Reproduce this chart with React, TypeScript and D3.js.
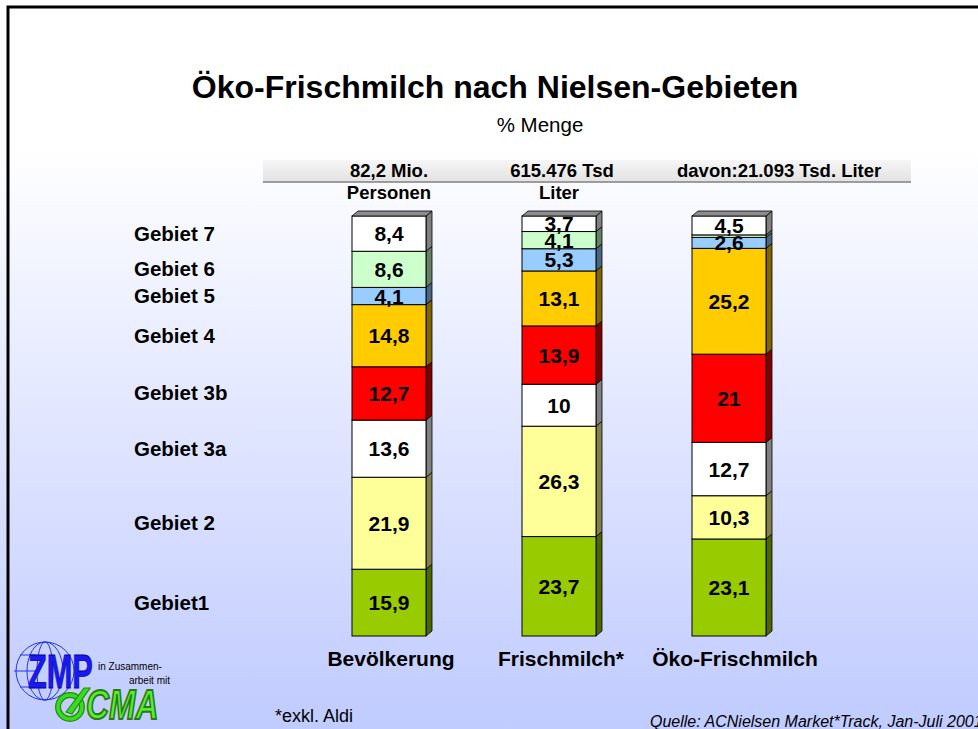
import React from "react";
import * as d3 from "d3";

const W = 978;
const H = 729;
const FONT = "'Liberation Sans', Arial, sans-serif";

// categories (bars) and regions (stack order, bottom to top)
const categories = ["Bevölkerung", "Frischmilch*", "Öko-Frischmilch"];
const regions = ["Gebiet1", "Gebiet 2", "Gebiet 3a", "Gebiet 3b", "Gebiet 4", "Gebiet 5", "Gebiet 6", "Gebiet 7"];
const regionColors = ["#99cc00", "#ffff99", "#ffffff", "#ff0000", "#ffcc00", "#99ccff", "#ccffcc", "#ffffff"];

// % Menge per region
const bevoelkerung = [15.9, 21.9, 13.6, 12.7, 14.8, 4.1, 8.6, 8.4];
const frischmilch = [23.7, 26.3, 10, 13.9, 13.1, 5.3, 4.1, 3.7];
const oekoFrischmilch = [23.1, 10.3, 12.7, 21, 25.2, 2.6, 0.6, 4.5];

const headerTop = ["82,2 Mio.", "615.476 Tsd", "davon:21.093 Tsd. Liter"];
const headerBottom = ["Personen", "Liter", ""];

const series = [bevoelkerung, frischmilch, oekoFrischmilch];

const rows = categories.map((c, i) => {
  const row: any = { cat: c };
  regions.forEach((r, j) => (row[r] = series[i][j]));
  return row;
});

const stack = d3.stack<any>().keys(regions).offset(d3.stackOffsetExpand);
const layers = stack(rows);

const x = d3.scalePoint<string>().domain(categories).range([389, 729]);
const y = d3.scaleLinear().domain([0, 1]).range([636, 216]);
const barW = 74;
const dx = 6;
const dy = 5;

const shade = (c: string, k: number) => {
  const rgb = d3.rgb(c);
  return d3.rgb(rgb.r * k, rgb.g * k, rgb.b * k).formatHex();
};
const fmt = (v: number) => String(v).replace(".", ",");

const Logo = () => (
  <g>
    <g fill="none" stroke="#2233ee" strokeWidth={1}>
      <circle cx={45} cy={671} r={29} />
      <ellipse cx={45} cy={671} rx={18} ry={29} />
      <ellipse cx={45} cy={671} rx={8} ry={29} />
      <line x1={14} y1={671} x2={36} y2={671} />
      <line x1={20} y1={655} x2={36} y2={655} />
      <line x1={20} y1={687} x2={36} y2={687} />
    </g>
    <text transform="translate(28,688) scale(0.64,1)" fontFamily={FONT} fontWeight="bold" fontSize={48}
      fill="#1a1aee" stroke="#0000aa" strokeWidth={0.8}>ZMP</text>
    <text x={98} y={670} fontFamily={FONT} fontSize={10} fill="#000">in Zusammen-</text>
    <text x={170} y={684} fontFamily={FONT} fontSize={10} fill="#000" textAnchor="end">arbeit mit</text>
    <circle cx={70} cy={707} r={12} fill="none" stroke="#2a8a00" strokeWidth={6} />
    <circle cx={70} cy={707} r={12} fill="none" stroke="#33dd22" strokeWidth={3.5} />
    <path d="M66,712 L84,688 L90,688 L72,714 Z" fill="#33dd22" stroke="#2a8a00" strokeWidth={1.2} />
    <text transform="translate(86,719) scale(0.74,1)" fontFamily={FONT} fontWeight="bold" fontStyle="italic"
      fontSize={43} fill="#55ee33" stroke="#2a7a10" strokeWidth={2}>CMA</text>
  </g>
);

export default function App() {
  const bev = layers.map((l) => l[0]);
  return (
    <div style={{ position: "fixed", left: 0, top: 0 }}>
      <svg width={W} height={H} style={{ display: "block" }}>
        <defs>
          <linearGradient id="bg" x1="0" y1="0" x2="0" y2="1">
            <stop offset="0" stopColor="#ffffff" />
            <stop offset="0.2" stopColor="#ffffff" />
            <stop offset="1" stopColor="#c0cbff" />
          </linearGradient>
          <linearGradient id="hdr" x1="0" y1="0" x2="0" y2="1">
            <stop offset="0" stopColor="#f6f6f6" />
            <stop offset="1" stopColor="#e2e2e2" />
          </linearGradient>
        </defs>
        <rect x={0} y={0} width={W} height={H} fill="url(#bg)" />
        <rect x={8} y={7} width={W + 20} height={H + 20} fill="none" stroke="#000" strokeWidth={3} />

        <text x={495} y={98} textAnchor="middle" fontFamily={FONT} fontWeight="bold" fontSize={32}>
          Öko-Frischmilch nach Nielsen-Gebieten
        </text>
        <text x={540} y={132} textAnchor="middle" fontFamily={FONT} fontSize={20.5}>% Menge</text>

        <rect x={263} y={160} width={648} height={22} fill="url(#hdr)" />
        <line x1={263} y1={182} x2={911} y2={182} stroke="#808080" strokeWidth={1.5} />
        {categories.map((c, i) => {
          const last = i === categories.length - 1;
          return (
            <g key={c} fontFamily={FONT} fontWeight="bold" fontSize={18.5}>
              <text x={last ? 677 : (x(c) as number) + (i === 1 ? 3 : 0)} y={177}
                textAnchor={last ? "start" : "middle"}>{headerTop[i]}</text>
              <text x={x(c) as number} y={199} textAnchor="middle">{headerBottom[i]}</text>
            </g>
          );
        })}

        {regions.map((r, j) => (
          <text key={r} x={134} y={(y(bev[j][0]) + y(bev[j][1])) / 2 + 7} fontFamily={FONT}
            fontWeight="bold" fontSize={20.5}>{r}</text>
        ))}

        {categories.map((c, i) => {
          const cx = x(c) as number;
          const x0 = cx - barW / 2;
          const x1 = cx + barW / 2;
          const topY = y(1);
          return (
            <g key={c}>
              {layers.map((l, j) => {
                const ya = y(l[i][1]);
                const yb = y(l[i][0]);
                const col = regionColors[j];
                return (
                  <g key={j}>
                    <path d={`M${x1},${yb} L${x1 + dx},${yb - dy} L${x1 + dx},${ya - dy} L${x1},${ya} Z`}
                      fill={shade(col, 0.5)} stroke="#000" strokeWidth={0.8} />
                    <rect x={x0} y={ya} width={barW} height={yb - ya} fill={col} stroke="#000" strokeWidth={1} />
                  </g>
                );
              })}
              <path d={`M${x0},${topY} L${x0 + dx},${topY - dy} L${x1 + dx},${topY - dy} L${x1},${topY} Z`}
                fill="#8c8c8c" stroke="#000" strokeWidth={0.8} />
              {layers.map((l, j) => {
                const v = series[i][j];
                if (v < 1) return null;
                const my = (y(l[i][1]) + y(l[i][0])) / 2;
                return (
                  <text key={"t" + j} x={cx} y={my + 7.5} textAnchor="middle" fontFamily={FONT}
                    fontWeight="bold" fontSize={21}>{fmt(v)}</text>
                );
              })}
              <text x={cx + (i === 2 ? 6 : 2)} y={666} textAnchor="middle" fontFamily={FONT} fontWeight="bold" fontSize={21}>
                {c}
              </text>
            </g>
          );
        })}

        <text x={275} y={722} fontFamily={FONT} fontSize={18}>*exkl. Aldi</text>
        <text x={650} y={727} fontFamily={FONT} fontStyle="italic" fontSize={16}>
          Quelle: ACNielsen Market*Track, Jan-Juli 2001
        </text>
        <Logo />
      </svg>
    </div>
  );
}
